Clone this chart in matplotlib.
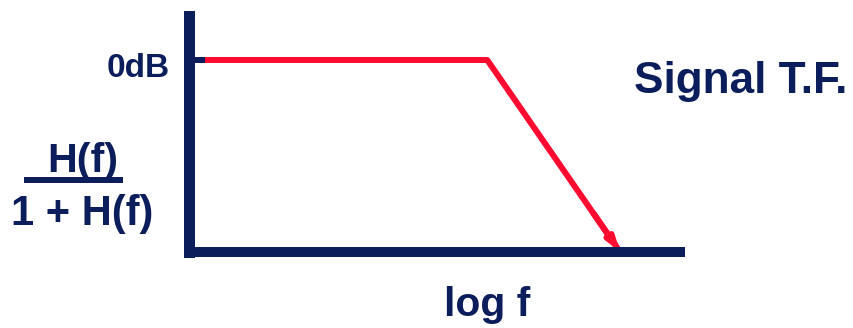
import matplotlib
matplotlib.use("Agg")
import matplotlib.pyplot as plt
from matplotlib.lines import Line2D

# ---- data (Bode-style asymptote, axis units) ----
log_f = [0.0, 6.07, 8.78]       # position along log-frequency axis
gain_db = [0.0, 0.0, -40.0]     # gain in dB
ytick_vals = [0.0]
ytick_labels = ["0dB"]

NAVY = "#0B1E5B"
RED = "#FF0A30"
W, H = 854, 328
plt.rcParams["font.family"] = ["Liberation Sans", "DejaVu Sans"]

fig = plt.figure(figsize=(W / 100, H / 100), dpi=100)
ax = fig.add_axes([189.5 / W, (H - 252) / H, (680 - 189.5) / W, (252 - 16.5) / H])
ax.set_xlim(0, 10)
ax.set_ylim(-40, 9.06)
ax.set_axisbelow(False)

for s in ("top", "right"):
    ax.spines[s].set_visible(False)
ax.spines["left"].set_linewidth(11 * 0.72)
ax.spines["bottom"].set_linewidth(10 * 0.72)
for s in ("left", "bottom"):
    ax.spines[s].set_color(NAVY)
    ax.spines[s].set_capstyle("projecting")

ax.set_xticks([])
ax.set_yticks(ytick_vals)
ax.set_yticklabels([])
ax.tick_params(axis="y", direction="in", length=15.5 * 0.72, width=6 * 0.72,
               color=NAVY)

# red response curve
ax.plot(log_f, gain_db, color=RED, lw=6 * 0.72, solid_capstyle="round",
        solid_joinstyle="round", zorder=2, clip_on=False)
ax.annotate("", xy=(log_f[2], gain_db[2]),
            xytext=(log_f[1] + 0.8 * (log_f[2] - log_f[1]),
                    gain_db[1] + 0.8 * (gain_db[2] - gain_db[1])),
            arrowprops=dict(arrowstyle="-|>,head_length=0.7,head_width=0.22",
                            mutation_scale=10, lw=6 * 0.72, color=RED,
                            shrinkA=0, shrinkB=0),
            annotation_clip=False, zorder=2)

def px(x, y):
    return x / W, 1 - y / H

kw = dict(color=NAVY, fontweight="bold", va="baseline")
fig.text(*px(170, 77), ytick_labels[0], ha="right", fontsize=24, **kw)
fig.text(*px(47, 172), "H(f)", ha="left", fontsize=29.7, **kw)
fig.text(*px(11, 225), "1 + H(f)", ha="left", fontsize=30, **kw)
fig.add_artist(Line2D([24 / W, 123 / W], [1 - 180 / H, 1 - 180 / H],
                      transform=fig.transFigure, color=NAVY, lw=6 * 0.72,
                      solid_capstyle="butt"))
fig.text(*px(634, 93), "Signal T.F.", ha="left", fontsize=31.8, **kw)
fig.text(*px(444, 316), "log f", ha="left", fontsize=29.4, **kw)

fig.savefig("out.png", dpi=100)
